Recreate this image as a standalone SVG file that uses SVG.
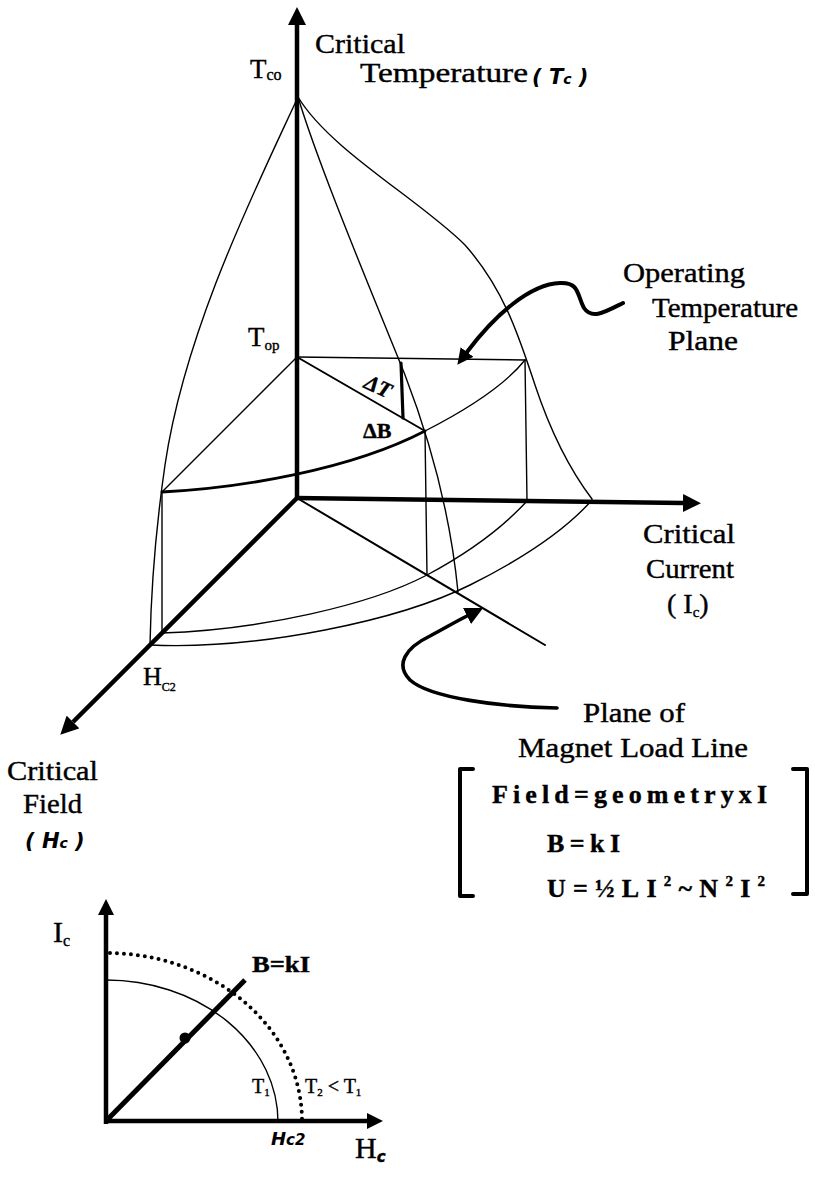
<svg xmlns="http://www.w3.org/2000/svg" width="815" height="1177" viewBox="0 0 815 1177">
<defs>
<style>
.ln{fill:none;stroke:#000;stroke-linecap:round;stroke-linejoin:round}
.w1{stroke-width:1.4}
.w2{stroke-width:2}
.w3{stroke-width:2.8}
.ax{fill:none;stroke:#000;stroke-width:4.5}
.tx{font-family:"Liberation Serif","Times New Roman",serif;fill:#000;stroke:#000;stroke-width:0.4}
.big{font-size:28px}
.b{font-weight:bold}
.hw{font-family:"DejaVu Sans","Liberation Sans",sans-serif;font-weight:bold;font-style:italic;fill:#000}
</style>
<marker id="ah" markerUnits="userSpaceOnUse" markerWidth="18" markerHeight="18" refX="0" refY="9" orient="auto"><path d="M0,0 L18,9 L0,18 z" fill="#000"/></marker>
<marker id="ahs" markerUnits="userSpaceOnUse" markerWidth="16" markerHeight="16" refX="0" refY="8" orient="auto"><path d="M0,0 L16,8 L0,16 z" fill="#000"/></marker>
<marker id="ah2" markerUnits="userSpaceOnUse" markerWidth="16" markerHeight="16" refX="0" refY="8" orient="auto"><path d="M0,0 L16,8 L0,16 z" fill="#000"/></marker>
</defs>
<rect width="815" height="1177" fill="#fff"/>

<g id="surface">
  <path class="ln w1" d="M298,97 C255,190 185,330 165,465 C157,520 151,590 150,645"/>
  <path class="ln w1" d="M298,97 C320,170 375,300 405,375 C430,440 450,510 458,592"/>
  <path class="ln w1" d="M298,97 C330,150 420,200 465,245 C505,290 520,340 535,385 C550,430 570,470 592,499"/>
  <path class="ln w1" d="M150,645 C260,650 400,620 470,585 C530,555 570,525 592,500"/>
  <path class="ln w1" d="M162,633 C260,630 370,605 427,575 C470,552 505,525 527,501"/>
  <path class="ln w3" d="M162,492 C240,488 350,470 425,431"/>
  <path class="ln w1" d="M425,431 C470,408 505,385 525,360"/>
  <path class="ln w1" d="M297,357 L525,360"/>
  <path class="ln w1" d="M297,357 L162,492"/>
  <path class="ln w2" d="M297,357 L425,431"/>
  <path class="ln w1" d="M425,431 L427,575"/>
  <path class="ln w1" d="M525,360 L527,501"/>
  <path class="ln w1" d="M162,492 L162,633"/>
  <path class="ln w2" d="M297,498 L545,645"/>
  <path class="ln" stroke-width="3.2" d="M401,363 L403,418"/>
</g>

<g id="axes">
  <line class="ax" x1="297" y1="500" x2="297" y2="25" marker-end="url(#ah)"/>
  <line class="ax" x1="295" y1="498" x2="683" y2="503" marker-end="url(#ah)"/>
  <line class="ax" x1="298" y1="497" x2="73" y2="722" marker-end="url(#ah)"/>
</g>

<g id="connectors">
  <path class="ln" stroke-width="4" d="M623,303 C605,312 592,320 584,308 C577,296 580,282 560,283 C530,284 495,315 467,352" marker-end="url(#ah2)"/>
  <path class="ln" stroke-width="3.6" d="M557,708 C500,707 430,698 410,680 C395,665 405,648 430,636 C445,628 455,622 467,616" marker-end="url(#ah)"/>
</g>

<g id="label-tc">
  <text class="tx big" x="315" y="53" textLength="90" lengthAdjust="spacingAndGlyphs">Critical</text>
  <text class="tx big" x="360" y="82" textLength="168" lengthAdjust="spacingAndGlyphs">Temperature</text>
  <text class="hw" x="532" y="84" font-size="21">( T<tspan font-size="14">c</tspan> )</text>
  <text class="tx" x="250" y="78" font-size="27">T<tspan font-size="16" dy="2">co</tspan></text>
</g>

<g id="label-top">
  <text class="tx" x="248" y="346" font-size="27">T<tspan font-size="15" dy="4">op</tspan></text>
  <text class="tx b" font-style="italic" font-size="22" text-anchor="middle" transform="translate(375,393) rotate(25)">ΔT</text>
  <text class="tx b" x="363" y="438" font-size="22">ΔB</text>
</g>

<g id="label-op-plane">
  <text class="tx big" x="623" y="282" textLength="122" lengthAdjust="spacingAndGlyphs">Operating</text>
  <text class="tx big" x="652" y="317" textLength="146" lengthAdjust="spacingAndGlyphs">Temperature</text>
  <text class="tx big" x="668" y="350" textLength="70" lengthAdjust="spacingAndGlyphs">Plane</text>
</g>

<g id="label-ic">
  <text class="tx big" x="643" y="543" textLength="92" lengthAdjust="spacingAndGlyphs">Critical</text>
  <text class="tx big" x="646" y="578" textLength="88" lengthAdjust="spacingAndGlyphs">Current</text>
  <text class="tx big" x="667" y="613">( I<tspan font-size="15" dy="4">c</tspan><tspan dy="-4">)</tspan></text>
</g>

<g id="label-hc">
  <text class="tx" x="143" y="685" font-size="26">H<tspan font-size="12" dy="6">C2</tspan></text>
  <text class="tx big" x="7" y="780" textLength="91" lengthAdjust="spacingAndGlyphs">Critical</text>
  <text class="tx big" x="23" y="813" textLength="59" lengthAdjust="spacingAndGlyphs">Field</text>
  <text class="hw" x="25" y="848" font-size="21">( H<tspan font-size="14">c</tspan> )</text>
</g>

<g id="label-loadline">
  <text class="tx big" x="583" y="722" textLength="102" lengthAdjust="spacingAndGlyphs">Plane of</text>
  <text class="tx big" x="518" y="757" textLength="230" lengthAdjust="spacingAndGlyphs">Magnet Load Line</text>
</g>

<g id="formulas">
  <path class="ln" stroke-width="4" stroke-linecap="butt" stroke-linejoin="miter" d="M473,769 L460,769 L460,896 L473,896"/>
  <path class="ln" stroke-width="4" stroke-linecap="butt" stroke-linejoin="miter" d="M793,769 L807,769 L807,894 L793,894"/>
  <text class="tx b" x="492" y="803" font-size="26" textLength="275" lengthAdjust="spacing">Field=geometryxI</text>
  <text class="tx b" x="547" y="852" font-size="26" textLength="73" lengthAdjust="spacing">B=kI</text>
  <text class="tx b" x="547" y="897" font-size="26" textLength="218" lengthAdjust="spacing">U=½LI<tspan font-size="15" dy="-11">2</tspan><tspan dy="11">~N</tspan><tspan font-size="15" dy="-11">2</tspan><tspan dy="11">I</tspan><tspan font-size="15" dy="-11">2</tspan></text>
</g>

<g id="inset">
  <line class="ax" x1="106" y1="1124" x2="106" y2="915" marker-end="url(#ahs)"/>
  <line class="ax" x1="104" y1="1121" x2="367" y2="1121" marker-end="url(#ahs)"/>
  <path class="ln w1" d="M106,980 A172,142 0 0 1 278,1122"/>
  <path fill="none" stroke="#000" stroke-width="4" stroke-linecap="round" stroke-dasharray="0 7" d="M110,953 A196,168 0 0 1 302,1120"/>
  <line x1="107" y1="1120" x2="245" y2="980" stroke="#000" stroke-width="5"/>
  <circle cx="185" cy="1038" r="5.5" fill="#000"/>
  <text class="tx" x="53" y="942" font-size="30">I<tspan font-size="16" dy="4">c</tspan></text>
  <text class="tx b" x="252" y="972" font-size="24" textLength="58" lengthAdjust="spacingAndGlyphs">B=kI</text>
  <text class="tx" x="252" y="1093" font-size="20">T<tspan font-size="11" dy="3">1</tspan></text>
  <text class="tx" x="305" y="1093" font-size="20">T<tspan font-size="11" dy="3">2</tspan><tspan dy="-3"> &lt; T</tspan><tspan font-size="11" dy="3">1</tspan></text>
  <text class="hw" x="271" y="1145" font-size="18">H<tspan font-size="15">c2</tspan></text>
  <text class="tx" x="355" y="1158" font-size="30">H<tspan class="hw" font-size="15" dy="4">c</tspan></text>
</g>
</svg>
